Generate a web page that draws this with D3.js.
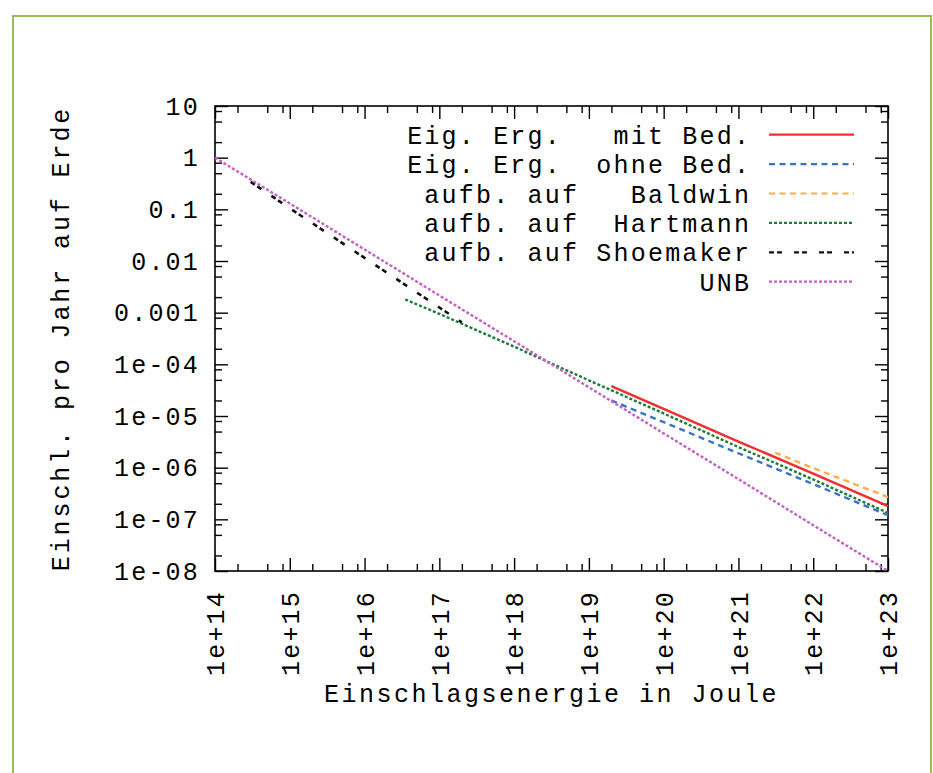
<!DOCTYPE html>
<meta charset="utf-8">
<script src="https://d3js.org/d3.v7.min.js"></script>
<style>
  body { margin: 0; background: #fff; }
  text { font-family: "Liberation Mono", "DejaVu Sans Mono", monospace; }
</style>
<body>
<div id="chart"></div>
<script>

// ---- data ----
var seriesNames = ["Eig. Erg.   mit Bed.", "Eig. Erg.  ohne Bed.", "aufb. auf   Baldwin",
                   "aufb. auf  Hartmann", "aufb. auf Shoemaker", "UNB"];

var energyMitBed = [2e19, 1e20, 1e21, 1e22, 1e23];
var rateMitBed   = [3.8e-5, 1.38e-5, 3.2e-6, 7.7e-7, 1.8e-7];

var energyOhneBed = [2e19, 1e20, 1e21, 1e22, 1e23];
var rateOhneBed   = [2.0e-5, 7.6e-6, 1.9e-6, 4.8e-7, 1.2e-7];

var energyBaldwin = [3.1e21, 1e22, 1e23];
var rateBaldwin   = [1.95e-6, 9.8e-7, 2.7e-7];

var energyHartmann = [3.5e16, 1e17, 1e18, 1e19, 1e20, 1e21, 1e22, 1e23];
var rateHartmann   = [1.8e-3, 9.5e-4, 2.2e-4, 4.9e-5, 1.12e-5, 2.5e-6, 5.9e-7, 1.33e-7];

var energyShoemaker = [3e14, 1e15, 1e16, 1e17, 2e17];
var rateShoemaker   = [0.34, 0.105, 0.0115, 1.26e-3, 6.5e-4];

var energyUNB = [1e14, 1e15, 1e16, 1e17, 1e18, 1e19, 1e20, 1e21, 1e22, 1e23];
var rateUNB   = [1, 0.13, 0.0167, 2.15e-3, 2.8e-4, 3.6e-5, 4.6e-6, 6e-7, 7.7e-8, 1e-8];

var xTickValues = [1e14, 1e15, 1e16, 1e17, 1e18, 1e19, 1e20, 1e21, 1e22, 1e23];
var xTickLabels = ["1e+14", "1e+15", "1e+16", "1e+17", "1e+18", "1e+19", "1e+20", "1e+21", "1e+22", "1e+23"];
var yTickValues = [10, 1, 0.1, 0.01, 0.001, 1e-4, 1e-5, 1e-6, 1e-7, 1e-8];
var yTickLabels = ["10", "1", "0.1", "0.01", "0.001", "1e-04", "1e-05", "1e-06", "1e-07", "1e-08"];
var minorSteps = [2, 5, 8];

var xTitle = "Einschlagsenergie in Joule";
var yTitle = "Einschl. pro Jahr auf Erde";

// ---- layout ----
var W = 933, H = 773;
var plotLeft = 215, plotRight = 888, plotTop = 106, plotBottom = 571;

var svg = d3.select("#chart").append("svg")
    .attr("width", W)
    .attr("height", H);

// outer green frame
svg.append("rect")
    .attr("x", 13).attr("y", 16)
    .attr("width", 918).attr("height", 820)
    .attr("fill", "#fff")
    .attr("stroke", "#9bbb59")
    .attr("stroke-width", 2);

var x = d3.scaleLog().domain([1e14, 1e23]).range([plotLeft, plotRight]);
var y = d3.scaleLog().domain([1e-8, 10]).range([plotBottom, plotTop]);

// minor tick positions
var xMinor = [], yMinor = [];
xTickValues.slice(0, -1).forEach(function(d) {
  minorSteps.forEach(function(m) { xMinor.push(d * m); });
});
yTickValues.slice(1).forEach(function(d) {
  minorSteps.forEach(function(m) { yMinor.push(d * m); });
});

var fontSize = 25, spacing = 2.2;

function styleAxis(g) {
  g.attr("font-family", null).attr("font-size", null);
  g.select(".domain").remove();
  g.selectAll("line").attr("stroke", "#000").attr("stroke-width", 1.4);
  g.selectAll("text")
    .attr("fill", "#000")
    .style("font-size", fontSize + "px")
    .style("letter-spacing", spacing + "px");
}

// bottom axis, labels rotated
svg.append("g")
    .attr("transform", "translate(0," + plotBottom + ")")
    .call(d3.axisBottom(x).tickValues(xTickValues).tickSize(-13)
          .tickFormat(function(d, i) { return xTickLabels[i]; }))
    .call(styleAxis)
    .selectAll("text")
      .attr("transform", "rotate(-90)")
      .attr("text-anchor", "end")
      .attr("x", -19)
      .attr("y", 0)
      .attr("dy", "0.35em");

svg.append("g")
    .attr("transform", "translate(0," + plotBottom + ")")
    .call(d3.axisBottom(x).tickValues(xMinor).tickSize(-7).tickFormat(""))
    .call(styleAxis);

// top axis (mirror)
svg.append("g")
    .attr("transform", "translate(0," + plotTop + ")")
    .call(d3.axisTop(x).tickValues(xTickValues).tickSize(-13).tickFormat(""))
    .call(styleAxis);
svg.append("g")
    .attr("transform", "translate(0," + plotTop + ")")
    .call(d3.axisTop(x).tickValues(xMinor).tickSize(-7).tickFormat(""))
    .call(styleAxis);

// left axis with labels
svg.append("g")
    .attr("transform", "translate(" + plotLeft + ",0)")
    .call(d3.axisLeft(y).tickValues(yTickValues).tickSize(-13).tickPadding(15)
          .tickFormat(function(d, i) { return yTickLabels[i]; }))
    .call(styleAxis);
svg.append("g")
    .attr("transform", "translate(" + plotLeft + ",0)")
    .call(d3.axisLeft(y).tickValues(yMinor).tickSize(-7).tickFormat(""))
    .call(styleAxis);

// right axis (mirror)
svg.append("g")
    .attr("transform", "translate(" + plotRight + ",0)")
    .call(d3.axisRight(y).tickValues(yTickValues).tickSize(-13).tickFormat(""))
    .call(styleAxis);
svg.append("g")
    .attr("transform", "translate(" + plotRight + ",0)")
    .call(d3.axisRight(y).tickValues(yMinor).tickSize(-7).tickFormat(""))
    .call(styleAxis);

// plot frame
svg.append("rect")
    .attr("x", plotLeft).attr("y", plotTop)
    .attr("width", plotRight - plotLeft).attr("height", plotBottom - plotTop)
    .attr("fill", "none")
    .attr("stroke", "#000")
    .attr("stroke-width", 1.6);

// axis titles
svg.append("text")
    .attr("x", (plotLeft + plotRight) / 2)
    .attr("y", 702)
    .attr("text-anchor", "middle")
    .style("font-size", fontSize + "px")
    .style("letter-spacing", "2.5px")
    .text(xTitle);

svg.append("text")
    .attr("transform", "translate(69," + (plotTop + plotBottom) / 2 + ") rotate(-90)")
    .attr("text-anchor", "middle")
    .style("font-size", fontSize + "px")
    .style("letter-spacing", "2.9px")
    .text(yTitle);

// series
var series = [
  {name: seriesNames[0], e: energyMitBed,   r: rateMitBed,   color: "#f22f2f", dash: null,        width: 2.5},
  {name: seriesNames[1], e: energyOhneBed,  r: rateOhneBed,  color: "#3a72c4", dash: "6,4.5",     width: 2.4},
  {name: seriesNames[2], e: energyBaldwin,  r: rateBaldwin,  color: "#ffad4a", dash: "6,4.5",     width: 2.4},
  {name: seriesNames[3], e: energyHartmann, r: rateHartmann, color: "#1e7a3c", dash: "3,2",       width: 2.4},
  {name: seriesNames[4], e: energyShoemaker,r: rateShoemaker,color: "#111",    dash: "5,3,5,12",  width: 2.6},
  {name: seriesNames[5], e: energyUNB,      r: rateUNB,      color: "#c262c2", dash: "3,2",       width: 2.4}
];

var line = d3.line()
    .x(function(d) { return x(d[0]); })
    .y(function(d) { return y(d[1]); });

svg.selectAll("path.series")
  .data(series)
  .enter()
  .append("path")
    .attr("class", "series")
    .attr("fill", "none")
    .attr("stroke", function(d) { return d.color; })
    .attr("stroke-width", function(d) { return d.width; })
    .attr("stroke-dasharray", function(d) { return d.dash; })
    .attr("d", function(d) { return line(d.e.map(function(v, i) { return [v, d.r[i]]; })); });

// legend
var legendY0 = 134.7, legendStep = 29.4;
var legend = svg.selectAll("g.legend")
  .data(series)
  .enter()
  .append("g")
    .attr("class", "legend")
    .attr("transform", function(d, i) { return "translate(0," + (legendY0 + i * legendStep) + ")"; });

legend.append("text")
    .attr("x", 749 + spacing)
    .attr("y", 9)
    .attr("text-anchor", "end")
    .attr("xml:space", "preserve")
    .style("white-space", "pre")
    .style("font-size", fontSize + "px")
    .style("letter-spacing", spacing + "px")
    .text(function(d) { return d.name; });

legend.append("line")
    .attr("x1", 769).attr("x2", 854)
    .attr("stroke", function(d) { return d.color; })
    .attr("stroke-width", function(d) { return Math.min(d.width, 2.2); })
    .attr("stroke-dasharray", function(d) { return d.dash; });

</script>
</body>
